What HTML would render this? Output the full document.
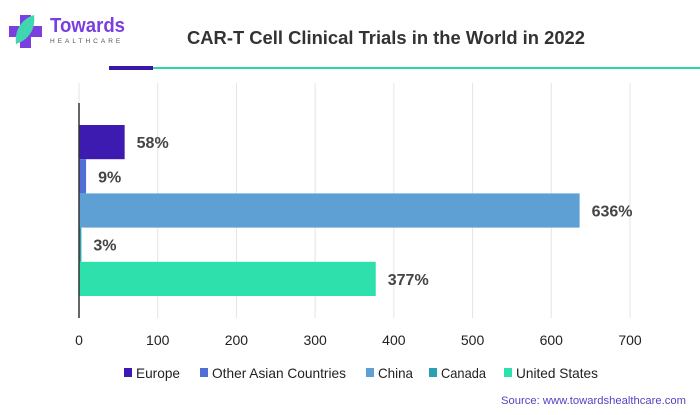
<!DOCTYPE html>
<html><head><meta charset="utf-8"><style>
body{margin:0;background:#fff;font-family:"Liberation Sans",sans-serif}
svg{display:block}
</style></head><body>
<svg width="700" height="415" xmlns="http://www.w3.org/2000/svg">
<g>
<rect x="20" y="15" width="11" height="33" fill="#7b3fe0"/>
<rect x="9" y="26" width="33" height="11" fill="#7b3fe0"/>
<path d="M16 44 C14 28 24 18 34 15 C36 30 28 40 16 44Z" fill="#3fd6b0"/>
<text x="50" y="32" font-size="20" font-weight="bold" fill="#7b3fe0" textLength="75" lengthAdjust="spacingAndGlyphs">Towards</text>
<text x="50" y="43" font-size="6.5" letter-spacing="3" fill="#555">HEALTHCARE</text>
</g>
<text x="386" y="44" text-anchor="middle" font-size="18.5" font-weight="bold" fill="#333" textLength="398" lengthAdjust="spacingAndGlyphs">CAR-T Cell Clinical Trials in the World in 2022</text>
<rect x="109" y="66" width="44" height="4" fill="#3a17a8"/>
<rect x="153" y="67" width="547" height="2" fill="#2ed6a6"/>
<g id="grid"></g><g id="bars"></g><g id="xt"></g>
<line x1="79" y1="103" x2="79" y2="318" stroke="#333" stroke-width="1.5"/>
<g id="legend"></g>
<text x="686" y="404" text-anchor="end" font-size="11" fill="#5a3fc0" textLength="185" lengthAdjust="spacingAndGlyphs">Source: www.towardshealthcare.com</text>
</svg>
<script>
const categories=["Europe","Other Asian Countries","China","Canada","United States"];
const values=[58,9,636,3,377];
const labels=["58%","9%","636%","3%","377%"];
const ticks=[0,100,200,300,400,500,600,700];
const colors=["#3d1bb0","#4f6fd6","#5ea0d4","#2aa0b4","#2ee0ac"];
const NS="http://www.w3.org/2000/svg";
const x=v=>79+v*(551/700);
const y0=125,bh=34.2;
function mk(t,a,p){const e=document.createElementNS(NS,t);for(const k in a)e.setAttribute(k,a[k]);p.appendChild(e);return e;}
const g=document.getElementById('grid'),b=document.getElementById('bars'),xt=document.getElementById('xt'),lg=document.getElementById('legend');
ticks.forEach(t=>{
 const l=mk('line',{x1:x(t),x2:x(t),y1:83,y2:318,stroke:'#e4e4e4','stroke-width':1},g);
 
 
 const tx=mk('text',{x:x(t),y:345,'text-anchor':'middle','font-size':14,fill:'#222'},xt);
 tx.textContent=t;
 
 
});
values.forEach((v,i)=>{
 const r=mk('rect',{x:79,y:y0+i*bh,width:x(v)-79,height:bh,fill:colors[i]},b);
 
 
 const t=mk('text',{x:x(v)+12,y:y0+i*bh+bh/2+6,'font-size':16,'font-weight':'bold',fill:'#444'},b);
 t.textContent=labels[i];
 
 
});
const lx=[124,200,366,429,504];
const lw=[44,134,35,45,82];
categories.forEach((c,i)=>{
 const s=mk('rect',{x:lx[i],y:368,width:8,height:9,fill:colors[i]},lg);
 
 
 const t=mk('text',{x:lx[i]+12,y:378,'font-size':14,fill:'#222',textLength:lw[i],lengthAdjust:'spacingAndGlyphs'},lg);
 t.textContent=c;
 
 
});
</script>
</body></html>
